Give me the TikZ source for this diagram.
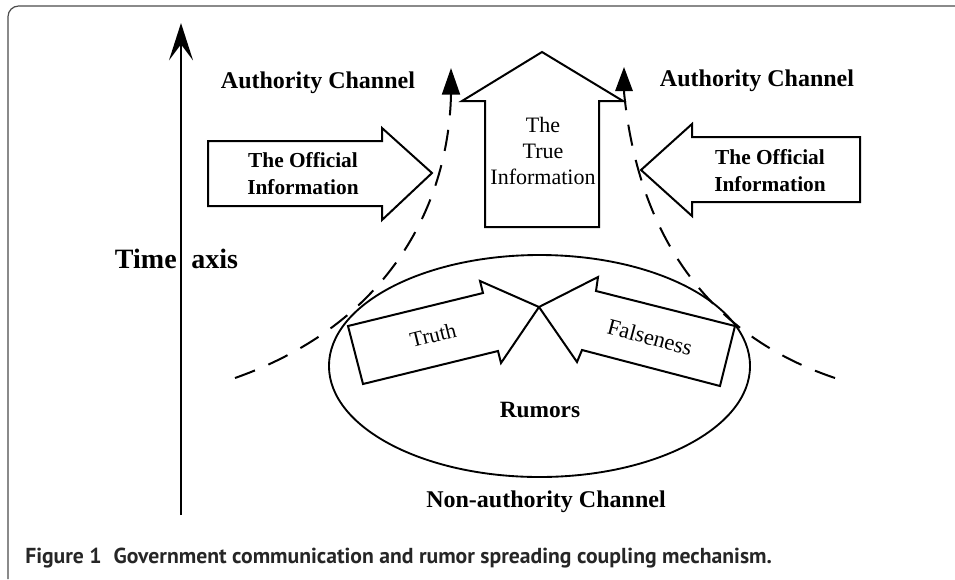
\documentclass[tikz,border=0pt]{standalone}
\usepackage{fontspec}
\usepackage{graphicx}
\setmainfont{Liberation Serif}
\newfontfamily\capfont{PT Sans}
\usetikzlibrary{arrows.meta}
\begin{document}
\begin{tikzpicture}[x=0.75pt,y=-0.75pt,
  frameline/.style={line width=0.9pt, draw=black!70},
  shapeline/.style={line width=1.5pt, draw=black, fill=white, line join=miter},
  dashcurve/.style={line width=1.5pt, dash pattern=on 16pt off 11pt},
  boldlbl/.style={font=\bfseries\fontsize{18}{21}\selectfont, inner sep=0pt},
  offlbl/.style={font=\bfseries\fontsize{16}{20.25}\selectfont, inner sep=0pt, align=center},
  plainlbl/.style={font=\fontsize{16.5}{19.5}\selectfont, inner sep=0pt, align=center}
]
\useasboundingbox (0,0) rectangle (955,579);
\fill[white] (0,0) rectangle (955,579);
% frame
\draw[frameline, rounded corners=8pt] (955,6) -- (8,6) -- (8,579);

% time axis
\coordinate (t0) at (181,515);
\coordinate (t1) at (181,23);
\draw[line width=1.5pt, -{Stealth[length=28pt,width=18pt,inset=12pt]}] (t0) -- (t1);
\node[boldlbl, font=\bfseries\fontsize{21}{24}\selectfont, anchor=base] (time) at (176.5,268) {Time\hspace{11pt}axis};

% labels
\node[boldlbl, anchor=base] (authL) at (318,88) {Authority Channel};
\node[boldlbl, anchor=base] (authR) at (757,86) {Authority Channel};

% ellipse
\draw[line width=1.4pt] (539.5,366) ellipse [x radius=157.9pt, y radius=83.25pt];
\node[boldlbl, font=\bfseries\fontsize{17.5}{21}\selectfont, anchor=base] (rum) at (540,417) {Rumors};
\node[boldlbl, anchor=base] (nonauth) at (546,507) {Non-authority Channel};

% dashed curves
\coordinate (La) at (235,378);
\coordinate (Lb) at (451,95);
\coordinate (Lt) at (451,68);
\coordinate (Ra) at (835,378);
\coordinate (Rb) at (624,92);
\coordinate (Rt) at (624,67);
\draw[dashcurve, -{Triangle[length=20pt,width=13.5pt]}] (La) .. controls (385,325) and (448,210) .. (Lb) -- (Lt);
\draw[dashcurve, -{Triangle[length=18pt,width=13pt]}] (Ra) .. controls (692,330) and (636,215) .. (Rb) -- (Rt);

% official information arrows
\draw[shapeline] (208,141) -- (382,141) -- (382,128) -- (432,173) -- (382,220) -- (382,206) -- (208,206) -- cycle;
\node[offlbl] (offL) at (303,174) {The Official\\Information};
\draw[shapeline] (860,137) -- (692,137) -- (692,124) -- (641,170) -- (692,216) -- (692,202) -- (860,202) -- cycle;
\node[offlbl] (offR) at (770,170.7) {The Official\\Information};

% true information arrow
\draw[shapeline] (485,227) -- (485,101) -- (462,101) -- (542,52) -- (623,101) -- (599,101) -- (599,227) -- cycle;
\node[plainlbl] (trueinfo) at (543,150.5) {The\\True\\Information};

% truth / falseness arrows
\draw[shapeline] (348,326) -- (483,293) -- (480,281) -- (539,307) -- (501,363) -- (498,351) -- (363,384) -- cycle;
\node[plainlbl, font=\fontsize{16}{19}\selectfont, rotate=14] (truth) at (433,335) {Truth};
\draw[shapeline] (735,326) -- (596,291) -- (598,277) -- (539,307) -- (577,362) -- (582,350) -- (720,386) -- cycle;
\node[plainlbl, font=\fontsize{17}{19}\selectfont, rotate=-15] (false) at (650,337) {Falseness};

% caption
\node[anchor=base west, inner sep=0pt, text=black!85] (cap) at (25,563)
  {\resizebox{560pt}{!}{\capfont\bfseries Figure 1\hspace{0.55em}Government communication and rumor spreading coupling mechanism.}};
\end{tikzpicture}
\end{document}
